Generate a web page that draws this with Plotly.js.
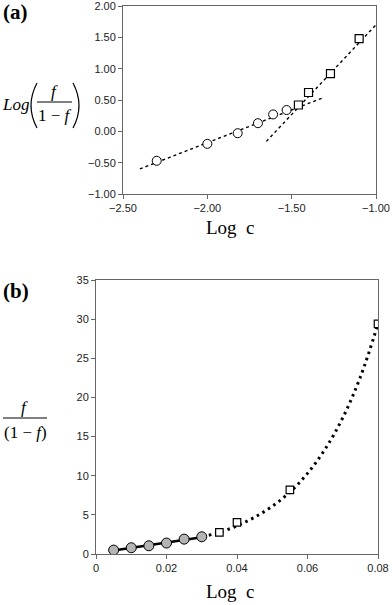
<!DOCTYPE html>
<html>
<head>
<meta charset="utf-8">
<script src="https://cdn.plot.ly/plotly-3.0.1.min.js"></script>
<style>html,body{margin:0;padding:0;background:#fff;}#chart{width:392px;height:605px;}</style>
</head>
<body>
<div id="chart"></div>
<script>
// Panel (a): Log(f/(1-f)) vs Log c
const aCircleX = [-2.30, -2.00, -1.82, -1.70, -1.61, -1.53];
const aCircleY = [-0.47, -0.20, -0.03, 0.13, 0.27, 0.34];
const aSquareX = [-1.46, -1.40, -1.27, -1.10];
const aSquareY = [0.42, 0.62, 0.92, 1.48];
const aFit1X = [-2.40, -1.32];
const aFit1Y = [-0.60, 0.53];
const aFit2X = [-1.65, -1.00];
const aFit2Y = [-0.16, 1.70];
const aXTicks = [-2.5, -2.0, -1.5, -1.0];
const aYTicks = [-1.0, -0.5, 0.0, 0.5, 1.0, 1.5, 2.0];

// Panel (b): f/(1-f) vs Log c
const bCircleX = [0.005, 0.010, 0.015, 0.020, 0.025, 0.030];
const bCircleY = [0.5, 0.8, 1.05, 1.4, 1.9, 2.2];
const bSquareX = [0.035, 0.040, 0.055, 0.080];
const bSquareY = [2.75, 4.05, 8.2, 29.4];
const bLineX = [0.005, 0.030];
const bLineY = [0.45, 2.15];
const bCurveX = [0.032, 0.035, 0.040, 0.045, 0.050, 0.055, 0.060, 0.065, 0.070, 0.075, 0.080];
const bCurveY = [2.4, 2.75, 3.6, 4.7, 6.1, 7.9, 10.3, 13.4, 17.4, 22.6, 29.4];
const bXTicks = [0, 0.02, 0.04, 0.06, 0.08];
const bXTickText = ['0', '0.02', '0.04', '0.06', '0.08'];
const bYTicks = [0, 5, 10, 15, 20, 25, 30, 35];

const W = 392, H = 605;
const px = v => v / W;
const py = v => 1 - v / H;

const traces = [
  {x: aFit1X, y: aFit1Y, xaxis: 'x', yaxis: 'y', mode: 'lines',
   line: {color: '#000', width: 1.4, dash: 'dot'}},
  {x: aFit2X, y: aFit2Y, xaxis: 'x', yaxis: 'y', mode: 'lines',
   line: {color: '#000', width: 1.4, dash: 'dot'}},
  {x: aCircleX, y: aCircleY, xaxis: 'x', yaxis: 'y', mode: 'markers',
   marker: {symbol: 'circle', size: 9, color: '#fff', line: {color: '#000', width: 1}}},
  {x: aSquareX, y: aSquareY, xaxis: 'x', yaxis: 'y', mode: 'markers',
   marker: {symbol: 'square', size: 8, color: '#fff', line: {color: '#000', width: 1.2}}},
  {x: bLineX, y: bLineY, xaxis: 'x2', yaxis: 'y2', mode: 'lines',
   line: {color: '#000', width: 2.5}},
  {x: bCurveX, y: bCurveY, xaxis: 'x2', yaxis: 'y2', mode: 'lines',
   line: {color: '#000', width: 3, dash: '2.5px,4px', shape: 'spline'}},
  {x: bCircleX, y: bCircleY, xaxis: 'x2', yaxis: 'y2', mode: 'markers',
   marker: {symbol: 'circle', size: 10, color: '#b4b4b4', line: {color: '#000', width: 1}}},
  {x: bSquareX, y: bSquareY, xaxis: 'x2', yaxis: 'y2', mode: 'markers',
   marker: {symbol: 'square', size: 7.5, color: '#fff', line: {color: '#000', width: 1.2}}}
];

const tickFont = {family: 'Liberation Sans, Arial, sans-serif', size: 11, color: '#222'};
const axisCommon = {
  showline: true, mirror: true, linecolor: '#666', linewidth: 1,
  ticks: 'outside', ticklen: 4, tickcolor: '#666', showgrid: false, zeroline: false,
  tickfont: tickFont, fixedrange: true, ticklabeloverflow: 'allow'
};
const serif = 'Liberation Serif, Times New Roman, serif';

// parenthesis path helper in paper coords (pixel inputs)
function paren(xEnd, xBulge, yTop, yBot) {
  const ym = (yTop + yBot) / 2;
  return `M ${px(xEnd)},${py(yTop)} Q ${px(xBulge)},${py(ym)} ${px(xEnd)},${py(yBot)}`;
}

const layout = {
  width: W, height: H,
  margin: {l: 0, r: 0, t: 0, b: 0, autoexpand: false},
  paper_bgcolor: '#fff', plot_bgcolor: '#fff',
  showlegend: false,
  xaxis: Object.assign({}, axisCommon, {domain: [px(123), px(376)], anchor: 'y',
    range: [-2.5, -1.0], tickvals: aXTicks, tickformat: '.2f'}),
  yaxis: Object.assign({}, axisCommon, {domain: [py(194), py(6)], anchor: 'x',
    range: [-1.0, 2.0], tickvals: aYTicks, tickformat: '.2f'}),
  xaxis2: Object.assign({}, axisCommon, {domain: [px(96), px(378)], anchor: 'y2',
    range: [0, 0.08], tickvals: bXTicks, ticktext: bXTickText}),
  yaxis2: Object.assign({}, axisCommon, {domain: [py(554), py(280)], anchor: 'x2',
    range: [0, 35], tickvals: bYTicks}),
  shapes: [
    // fraction bars
    {type: 'line', xref: 'paper', yref: 'paper', x0: px(37), x1: px(72), y0: py(102), y1: py(102),
     line: {color: '#000', width: 1}},
    {type: 'line', xref: 'paper', yref: 'paper', x0: px(3), x1: px(47), y0: py(418), y1: py(418),
     line: {color: '#000', width: 1}},
    // big parentheses around fraction in (a)
    {type: 'path', xref: 'paper', yref: 'paper', path: paren(37, 25, 83, 128),
     line: {color: '#000', width: 1.2}},
    {type: 'path', xref: 'paper', yref: 'paper', path: paren(73, 85, 83, 128),
     line: {color: '#000', width: 1.2}}
  ],
  annotations: [
    {text: '<b>(a)</b>', xref: 'paper', yref: 'paper', x: px(1), y: py(12), xanchor: 'left', yanchor: 'middle',
     showarrow: false, font: {family: serif, size: 21, color: '#000'}},
    {text: '<b>(b)</b>', xref: 'paper', yref: 'paper', x: px(1), y: py(291), xanchor: 'left', yanchor: 'middle',
     showarrow: false, font: {family: serif, size: 21, color: '#000'}},
    // panel (a) y title
    {text: '<i>Log</i>', xref: 'paper', yref: 'paper', x: px(15), y: py(105), xanchor: 'center', yanchor: 'middle',
     showarrow: false, font: {family: serif, size: 17, color: '#000'}},
    {text: '<i>f</i>', xref: 'paper', yref: 'paper', x: px(55), y: py(92), xanchor: 'center', yanchor: 'middle',
     showarrow: false, font: {family: serif, size: 17, color: '#000'}},
    {text: '1 − <i>f</i>', xref: 'paper', yref: 'paper', x: px(55), y: py(115), xanchor: 'center', yanchor: 'middle',
     showarrow: false, font: {family: serif, size: 17, color: '#000'}},
    // panel (b) y title
    {text: '<i>f</i>', xref: 'paper', yref: 'paper', x: px(24), y: py(408), xanchor: 'center', yanchor: 'middle',
     showarrow: false, font: {family: serif, size: 17, color: '#000'}},
    {text: '(1 − <i>f</i>)', xref: 'paper', yref: 'paper', x: px(25), y: py(432), xanchor: 'center', yanchor: 'middle',
     showarrow: false, font: {family: serif, size: 17, color: '#000'}},
    // x titles
    {text: 'Log  c', xref: 'paper', yref: 'paper', x: px(230), y: py(227), xanchor: 'center', yanchor: 'middle',
     showarrow: false, font: {family: serif, size: 19, color: '#000'}},
    {text: 'Log  c', xref: 'paper', yref: 'paper', x: px(230), y: py(591), xanchor: 'center', yanchor: 'middle',
     showarrow: false, font: {family: serif, size: 19, color: '#000'}}
  ]
};

Plotly.newPlot('chart', traces, layout, {staticPlot: true, displayModeBar: false});
</script>
</body>
</html>
